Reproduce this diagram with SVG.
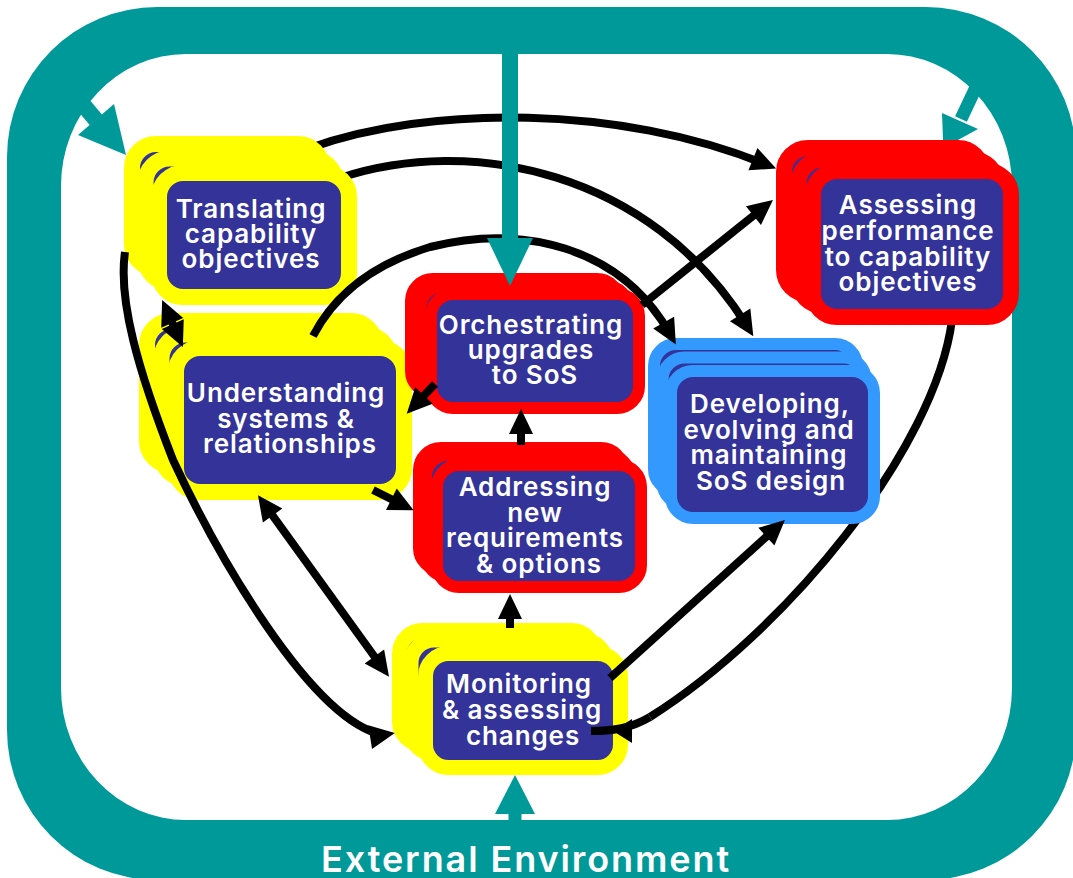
<svg xmlns="http://www.w3.org/2000/svg" width="1073" height="878" viewBox="0 0 1073 878">
<style>
.lbl{font-family:"Inter","Liberation Sans",sans-serif;font-weight:600;font-size:26px;letter-spacing:.9px;fill:#fff;text-anchor:middle}
.env{font-family:"Inter","Liberation Sans",sans-serif;font-weight:600;font-size:36px;fill:#fff;text-anchor:middle;letter-spacing:1.9px}
.y rect{fill:#333399;stroke:#ffff00;stroke-width:16}
.m rect{stroke-width:15}
.r rect{fill:#333399;stroke:#ff0000;stroke-width:12}
.r4 rect{stroke-width:16}
.b rect{fill:#333399;stroke:#3399ff;stroke-width:12}
.c{fill:none;stroke:#000;stroke-width:8}
.t{fill:#009999}
.ts{stroke:#009999;fill:none}
</style>
<defs>
<marker id="a" markerUnits="userSpaceOnUse" markerWidth="26" markerHeight="26" refX="13" refY="12" orient="auto-start-reverse" overflow="visible"><path d="M0,0L25,12L0,24z"/></marker>
<marker id="aTail" markerUnits="userSpaceOnUse" markerWidth="26" markerHeight="26" refX="41" refY="12" orient="auto" overflow="visible"><path d="M0,0L19,12L0,24z"/></marker>
<marker id="aFixed" markerUnits="userSpaceOnUse" markerWidth="26" markerHeight="26" refX="13" refY="12" orient="-9" overflow="visible"><path d="M0,0L25,12L0,24z"/></marker>
</defs>
<g id="external-environment">
<rect x="7" y="7" width="1069" height="873" rx="150" ry="150" fill="#009999"/>
<rect x="61" y="54" width="951" height="766" rx="125" ry="132" fill="#fff"/>
<text class="env" x="526" y="872">External Environment</text>
</g>
<g id="connectors-behind">
<path class="c" d="M952,320C935,450 785,632 650,717"/>
<path class="c" d="M310,148C430,105 620,105 765,164" marker-end="url(#a)"/>
<path class="c" d="M340,178C470,135 650,170 747,326" marker-end="url(#a)"/>
</g>
<g id="node-translating" class="y">
<rect x="132" y="144" width="190" height="124" rx="24"/>
<rect x="145.500" y="158.500" width="190" height="124" rx="24"/>
<rect x="159" y="173" width="190" height="124" rx="24"/>
<text class="lbl" x="251" y="218">Translating</text>
<text class="lbl" x="251" y="243">capability</text>
<text class="lbl" x="251" y="268">objectives</text>
</g>
<g id="node-understanding" class="y">
<rect x="147" y="321" width="228" height="144" rx="24"/>
<rect x="161.500" y="334.500" width="228" height="144" rx="24"/>
<rect x="176" y="348" width="228" height="144" rx="24"/>
<text class="lbl" x="286" y="402">Understanding</text>
<text class="lbl" x="286" y="428">systems &amp;</text>
<text class="lbl" x="290" y="453">relationships</text>
</g>
<g id="node-orchestrating" class="r">
<rect x="411" y="279" width="208" height="114" rx="22"/>
<rect x="420.500" y="286" width="208" height="114" rx="22"/>
<rect x="431" y="294" width="208" height="114" rx="22"/>
<text class="lbl" x="531" y="334">Orchestrating</text>
<text class="lbl" x="531" y="359">upgrades</text>
<text class="lbl" x="535" y="384">to SoS</text>
</g>
<g id="node-addressing" class="r">
<rect x="419" y="448" width="204" height="122" rx="22"/>
<rect x="426" y="455" width="204" height="122" rx="22"/>
<rect x="437" y="465" width="204" height="122" rx="22"/>
<text class="lbl" x="535" y="496">Addressing</text>
<text class="lbl" x="535" y="522">new</text>
<text class="lbl" x="535" y="547">requirements</text>
<text class="lbl" x="539" y="573">&amp; options</text>
</g>
<g id="node-monitoring" class="y m">
<rect x="399.500" y="630.500" width="195" height="114" rx="23"/>
<rect x="411" y="640" width="195" height="114" rx="23"/>
<rect x="425.500" y="653.500" width="195" height="114" rx="23"/>
<text class="lbl" x="519" y="693">Monitoring</text>
<text class="lbl" x="522" y="719">&amp; assessing</text>
<text class="lbl" x="523" y="745">changes</text>
</g>
<g id="node-developing" class="b">
<rect x="654" y="344" width="203" height="147" rx="22"/>
<rect x="662.500" y="357.500" width="203" height="147" rx="22"/>
<rect x="671" y="371" width="203" height="147" rx="22"/>
<text class="lbl" x="770" y="413">Developing,</text>
<text class="lbl" x="769" y="439">evolving and</text>
<text class="lbl" x="769" y="464">maintaining</text>
<text class="lbl" x="771" y="490">SoS design</text>
</g>
<g id="node-assessing" class="r r4">
<rect x="784" y="148" width="198" height="146" rx="24"/>
<rect x="798.500" y="159.500" width="198" height="146" rx="24"/>
<rect x="813" y="171" width="198" height="146" rx="24"/>
<text class="lbl" x="908" y="214">Assessing</text>
<text class="lbl" x="908" y="240">performance</text>
<text class="lbl" x="908" y="266">to capability</text>
<text class="lbl" x="908" y="291">objectives</text>
</g>
<g id="connectors">
<path class="c" d="M125,252C118,300 138,370 173,460C215,550 310,720 383,735" marker-end="url(#aFixed)"/>
<path class="c" d="M313,336C338,288 380,262 430,247C520,224 620,245 670,334" marker-end="url(#a)"/>
<path class="c" d="M650,717C630,729 610,731 591,731" marker-end="url(#aTail)"/>
<path class="c" d="M642,305L763.600,207.500" marker-end="url(#a)"/>
<path class="c" d="M435,384L415,405" marker-end="url(#a)"/>
<path class="c" d="M521,445V421" marker-end="url(#a)"/>
<path class="c" d="M373,490L403,505" marker-end="url(#a)"/>
<path class="c" d="M510,628V606" marker-end="url(#a)"/>
<path class="c" d="M265,505L382,667" marker-start="url(#a)" marker-end="url(#a)"/>
<path class="c" d="M167,311L178,336" marker-start="url(#a)" marker-end="url(#a)"/>
<path class="c" d="M610,678L776,528" marker-end="url(#a)"/>
<line class="ts" x1="510" y1="50" x2="510" y2="245" stroke-width="16"/>
<polygon class="t" points="487,238 533,238 510,286"/>
<line class="ts" x1="75" y1="95" x2="96" y2="120" stroke-width="16"/>
<polygon class="t" points="114,104 78,135 126,155"/>
<line class="ts" x1="978" y1="83" x2="961" y2="119" stroke-width="13"/>
<polygon class="t" points="942,113 978,129 958,140 943,140"/>
<line class="ts" x1="515" y1="810" x2="515" y2="824" stroke-width="13"/>
<polygon class="t" points="495,814 535,814 515,775"/>
</g>
</svg>
